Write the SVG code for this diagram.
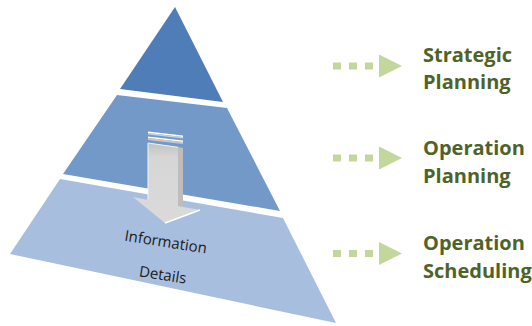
<svg xmlns="http://www.w3.org/2000/svg" width="532" height="326" viewBox="0 0 532 326">
<style>
.lbl{font-family:"Open Sans","Liberation Sans",sans-serif;font-weight:bold;font-size:20px;fill:#4F6228}
.info{font-family:"Open Sans","Liberation Sans",sans-serif;font-size:15px;fill:#1a1a1a}
.dot{fill:#C3D69B}
</style>
<defs>
<linearGradient id="arrowFace" x1="0" y1="0" x2="0" y2="1">
<stop offset="0" stop-color="#C2C2C2"/>
<stop offset="0.18" stop-color="#D6D6D6"/>
<stop offset="1" stop-color="#DADADA"/>
</linearGradient>
<g id="dotArrow">
<rect class="dot" x="0" y="-3.5" width="8" height="7"/>
<rect class="dot" x="16" y="-3.5" width="8" height="7"/>
<rect class="dot" x="32" y="-3.5" width="8" height="7"/>
<polygon class="dot" points="46,-11.5 69,0 46,11.5"/>
</g>
</defs>
<rect width="532" height="326" fill="#FFFFFF"/>
<g id="level-top">
<polygon points="175,7 120,89 223,102" fill="#4F7DB7"/>
</g>
<g id="level-middle">
<polygon points="117,95 227,108 280,211 63,174" fill="#7399C9"/>
</g>
<g id="level-bottom">
<polygon points="60,179 283,218 336,323 10,254" fill="#A8BEDF"/>
</g>
<g id="info-arrow">
<polygon points="148,131.5 183,135.5 183,137 148,133" fill="#FFFFFF"/>
<polygon points="148,133 183,137 183,138.5 148,134.5" fill="#D0D0D0"/>
<polygon points="148,136.5 183,140.5 183,142 148,138" fill="#FFFFFF"/>
<polygon points="148,138 183,142 183,144 148,140" fill="#C8C8C8"/>
<polygon points="148,143 183,148 183,207 200,210 165,223 133,197 148,200" fill="url(#arrowFace)"/>
<polygon points="178,147.3 183,148 183,207 178,206" fill="#BDBDBD"/>
<polyline points="148,200 148,143 178,147.3" fill="none" stroke="#F2F2F2" stroke-width="1"/>
<polyline points="165,223 200,210" fill="none" stroke="#FFFFFF" stroke-width="1.5"/>
</g>
<g id="info-text">
<text class="info" x="165" y="247" text-anchor="middle" transform="rotate(9 165 247)">Information</text>
<text class="info" x="162" y="280" text-anchor="middle" transform="rotate(9 162 280)">Details</text>
</g>
<g id="connectors">
<use href="#dotArrow" x="333" y="66"/>
<use href="#dotArrow" x="333" y="158"/>
<use href="#dotArrow" x="333" y="253.5"/>
</g>
<g id="label-strategic">
<text class="lbl" x="423" y="62">Strategic</text>
<text class="lbl" x="423" y="89">Planning</text>
</g>
<g id="label-operation-planning">
<text class="lbl" x="423" y="155">Operation</text>
<text class="lbl" x="423" y="183">Planning</text>
</g>
<g id="label-operation-scheduling">
<text class="lbl" x="423" y="250">Operation</text>
<text class="lbl" x="423" y="278">Scheduling</text>
</g>
</svg>
